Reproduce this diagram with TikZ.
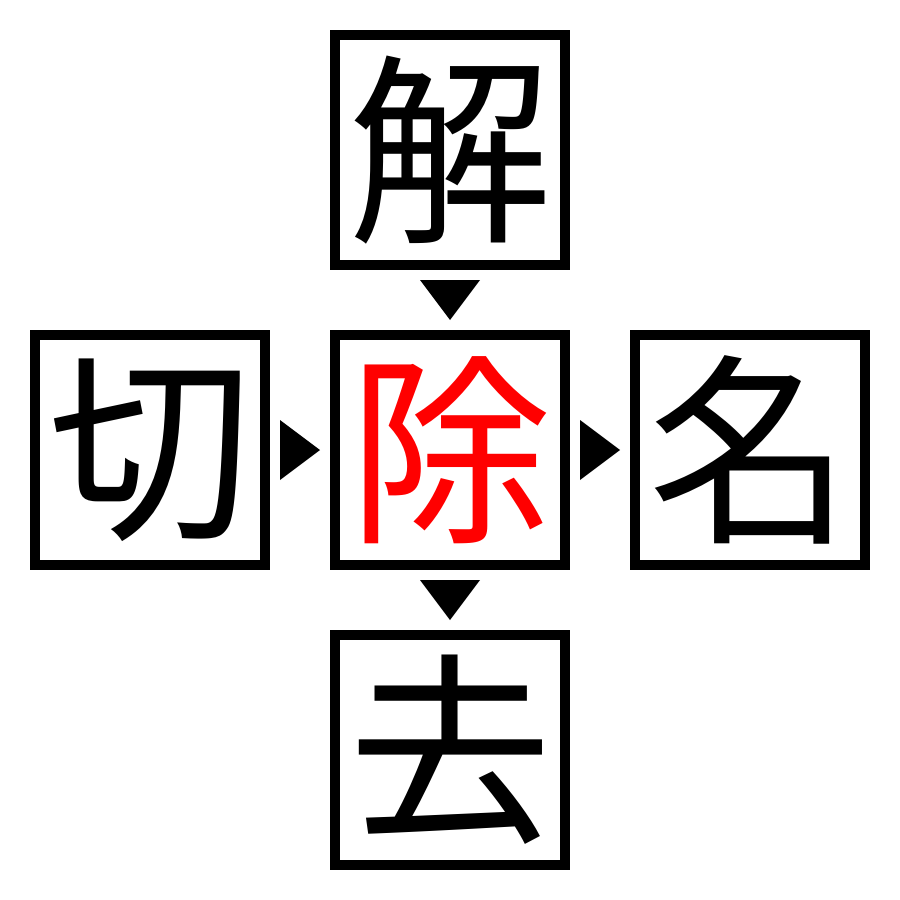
\documentclass[tikz,border=0pt]{standalone}
\usepackage{fontspec}
\usetikzlibrary{calc}
\newfontfamily\jp{Noto Sans CJK JP}
\begin{document}
\begin{tikzpicture}[x=0.01cm,y=-0.01cm,
  charbox/.style={draw=black,line width=2.845pt,minimum size=2.3cm,inner sep=0pt,font=\jp\fontsize{58pt}{58pt}\selectfont},
  tri/.style={fill=black}]
\useasboundingbox (0,0) rectangle (900,900);
\node[charbox] (top) at (450,150) {解};
\node[charbox] (left) at (150,450) {切};
\node[charbox,text=red] (mid) at (450,450) {除};
\node[charbox] (right) at (750,450) {名};
\node[charbox] (bot) at (450,750) {去};
\coordinate (t1) at ($(top.south)!0.5!(mid.north)$);
\coordinate (t2) at ($(mid.south)!0.5!(bot.north)$);
\coordinate (l1) at ($(left.east)!0.5!(mid.west)$);
\coordinate (r1) at ($(mid.east)!0.5!(right.west)$);
\fill[tri] ($(t1)+(-30,-20)$) -- ($(t1)+(30,-20)$) -- ($(t1)+(0,20)$) -- cycle;
\fill[tri] ($(t2)+(-30,-20)$) -- ($(t2)+(30,-20)$) -- ($(t2)+(0,20)$) -- cycle;
\fill[tri] ($(l1)+(-20,-30)$) -- ($(l1)+(-20,30)$) -- ($(l1)+(20,0)$) -- cycle;
\fill[tri] ($(r1)+(-20,-30)$) -- ($(r1)+(-20,30)$) -- ($(r1)+(20,0)$) -- cycle;
\end{tikzpicture}
\end{document}
